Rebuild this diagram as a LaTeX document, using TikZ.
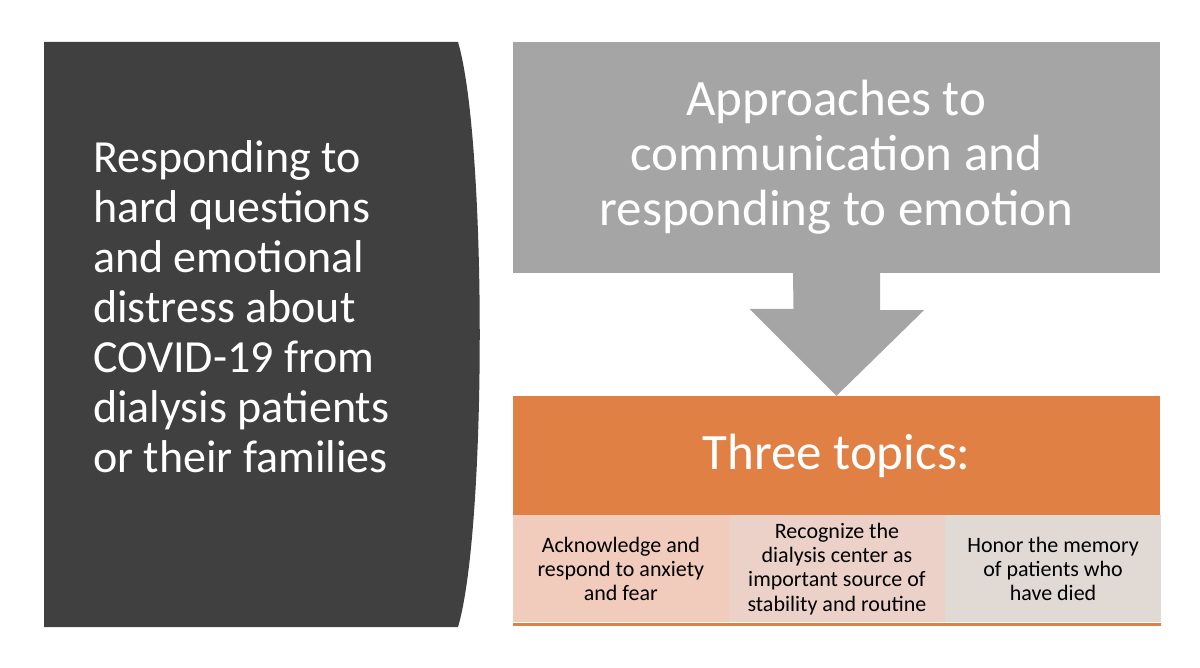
\documentclass[tikz,border=0pt]{standalone}
\usepackage{fontspec}
\setmainfont{Carlito}
\usetikzlibrary{positioning}
\definecolor{darkpanel}{HTML}{404040}
\definecolor{graypanel}{HTML}{A5A5A5}
\definecolor{orangepanel}{HTML}{E08045}
\definecolor{cellone}{HTML}{F1CBBC}
\definecolor{celltwo}{HTML}{ECD1C9}
\definecolor{cellthree}{HTML}{E1D9D4}
\begin{document}
\begin{tikzpicture}[x=1pt,y=-1pt,node distance=0pt,
  big/.style={text=white,align=center,font=\fontsize{51}{55}\selectfont},
  cell/.style={minimum width=215.7pt,minimum height=107pt,inner sep=0pt,align=center,font=\fontsize{22}{24.3}\selectfont}]
\useasboundingbox (0,0) rectangle (1200,668);
% left panel with bulging right side
\fill[darkpanel] (44,42) -- (458,42) .. controls (487,140) and (487,529) .. (458,627) -- (44,627) -- cycle;
\node[anchor=west,text=white,align=left,inner sep=0pt,font=\fontsize{46}{50}\selectfont](question) at (93,307)
  {Responding to\\hard questions\\and emotional\\distress about\\COVID-19 from\\dialysis patients\\or their families};
% right side
\node[big,fill=graypanel,minimum width=647pt,minimum height=231pt,inner sep=0pt](approach) at (836.5,157.5)
  {Approaches to\\communication and\\responding to emotion};
\node[big,fill=orangepanel,minimum width=647pt,minimum height=119pt,inner sep=0pt](topics) at (836.5,455.5)
  {Three topics:};
\node[cell,fill=cellone,anchor=north west](anxiety) at (topics.south west)
  {Acknowledge and\\respond to anxiety\\and fear};
\node[cell,fill=celltwo,right=of anxiety](center)
  {Recognize the\\dialysis center as\\important source of\\stability and routine};
\node[cell,fill=cellthree,right=of center](memory)
  {Honor the memory\\of patients who\\have died};
\draw[orangepanel,line width=3.5pt]([yshift=-1.75pt]anxiety.south west) -- ([yshift=-1.75pt]memory.south east);
% block arrow
\fill[graypanel] ([xshift=-43.5pt]approach.south) -- ([xshift=43.5pt]approach.south)
  -- ++(0,37) -- ++(44,0) -- (topics.north) -- ++(-87,-87) -- ++(44,0) -- cycle;
\end{tikzpicture}
\end{document}
